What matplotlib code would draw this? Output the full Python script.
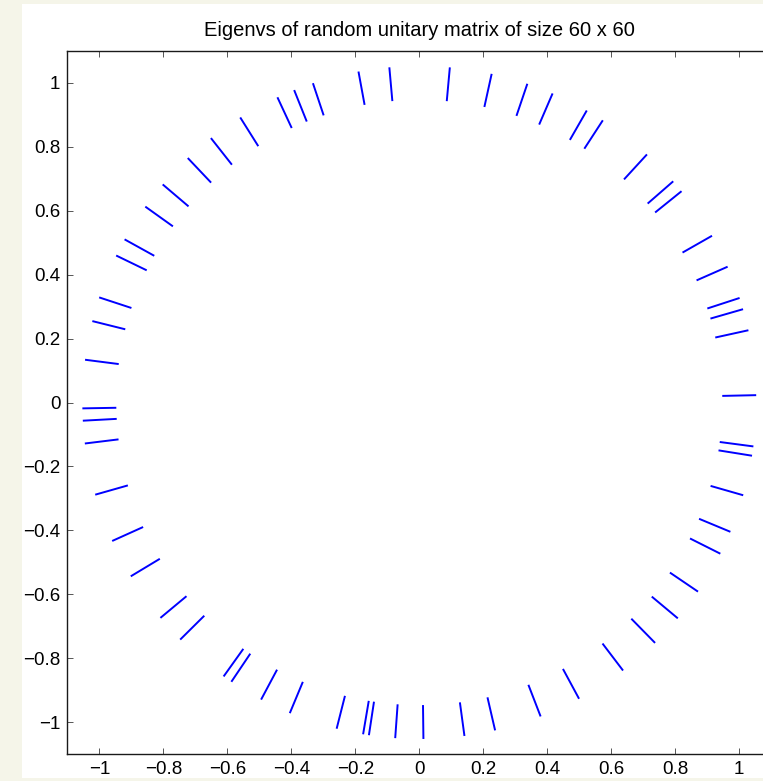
import numpy as np
import matplotlib
matplotlib.use("Agg")
from matplotlib import pyplot as plt
from matplotlib.patches import Rectangle
from matplotlib.ticker import FuncFormatter

plt.rcParams['font.family'] = ['Liberation Sans', 'DejaVu Sans']

# eigenvalue angles (degrees), 60 of them on the unit circle
eig_angle_deg = [
    1.25, 12.4, 16.1, 18.1, 23.8, 29.7, 38.9, 41.1, 47.5, 57.0,
    60.2, 66.7, 71.3, 77.6, 84.8, 95.1, 100.4, 108.4, 111.8, 114.9,
    122.1, 128.2, 133.4, 139.6, 144.4, 151.0, 154.1, 161.8, 166.0, 172.7,
    181.0, 183.1, 187.0, 195.9, 204.3, 211.1, 219.8, 224.8, 234.5, 236.1,
    242.0, 247.4, 255.8, 260.4, 261.4, 265.9, 270.7, 277.7, 283.0, 291.1,
    298.3, 307.2, 314.4, 320.1, 325.8, 333.3, 337.4, 344.0, 350.9, 352.5,
]
tick_vals = [-1, -0.8, -0.6, -0.4, -0.2, 0, 0.2, 0.4, 0.6, 0.8, 1]
n_size = 60

eigs = np.exp(1j * np.deg2rad(eig_angle_deg))

# each eigenvalue drawn as a short radial dash from 0.95 to 1.05
r_in, r_out = 0.95, 1.05
xs = np.vstack([r_in * eigs.real, r_out * eigs.real])
ys = np.vstack([r_in * eigs.imag, r_out * eigs.imag])

W, H = 763, 781
fig = plt.figure(figsize=(W / 100, H / 100), dpi=100)
fig.patch.set_facecolor('#f5f5e9')
fig.patches.append(Rectangle((22 / W, 3 / H), 1 - 22 / W, (H - 7) / H,
                             transform=fig.transFigure, facecolor='white',
                             edgecolor='none', zorder=-5))

# axes runs past the right edge like the cropped original
ax = fig.add_axes([67.3 / W, 27 / H, 704 / W, 703 / H])
ax.set_zorder(1)
ax.plot(xs, ys, color='#0000ff', linewidth=1.4)

ax.set_xlim(-1.1, 1.1)
ax.set_ylim(-1.1, 1.1)
ax.set_xticks(tick_vals)
ax.set_yticks(tick_vals)
fmt = FuncFormatter(lambda v, p: ('%g' % round(v, 2)).replace('-', '\u2212'))
ax.xaxis.set_major_formatter(fmt)
ax.yaxis.set_major_formatter(fmt)
ax.tick_params(direction='in', top=True, right=True, length=4.3, width=0.7,
               color='#555555', labelsize=13.5, pad=5)
for s in ax.spines.values():
    s.set_linewidth(1.0)
    s.set_color('#1a1a1a')

ax.set_title('Eigenvs of random unitary matrix of size %d x %d' % (n_size, n_size),
             fontsize=14.5, pad=11)

plt.savefig('out.png', dpi=100)
